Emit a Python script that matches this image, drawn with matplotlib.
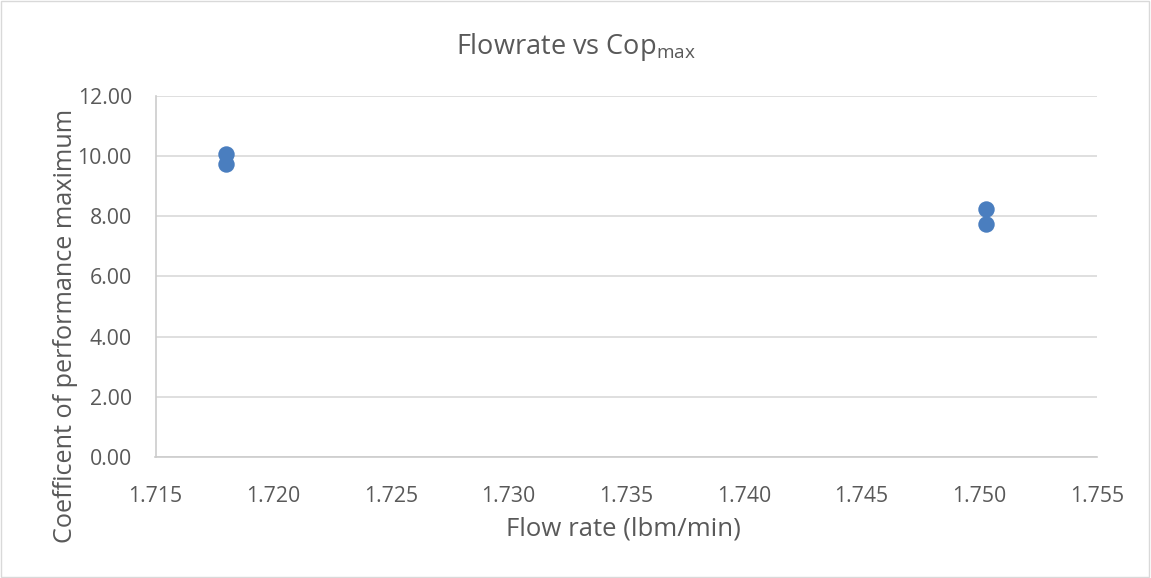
import matplotlib
matplotlib.use("Agg")
import matplotlib.pyplot as plt
from matplotlib.patches import Rectangle

flow_rate = [1.7180, 1.7180, 1.7503, 1.7503]
cop_max = [10.08, 9.74, 8.25, 7.73]
x_ticks = [1.715, 1.720, 1.725, 1.730, 1.735, 1.740, 1.745, 1.750, 1.755]
y_ticks = [0, 2, 4, 6, 8, 10, 12]

plt.rcParams['font.family'] = ['Open Sans', 'DejaVu Sans']
plt.rcParams['mathtext.fontset'] = 'custom'
plt.rcParams['mathtext.rm'] = 'Open Sans'

txt = '#595959'
fig = plt.figure(figsize=(11.51, 5.78), dpi=100)
L, R, B, T = 155.5, 1097, 457, 95.7
ax = fig.add_axes([L / 1151, 1 - B / 578, (R - L) / 1151, (B - T) / 578])

ax.scatter(flow_rate, cop_max, s=140, color='#4a7ebf', zorder=3, linewidths=0)
ax.set_xlim(1.715, 1.755)
ax.set_ylim(0, 12)
ax.set_xticks(x_ticks)
ax.set_xticklabels([f"{v:.3f}" for v in x_ticks])
ax.set_yticks(y_ticks)
ax.set_yticklabels([f"{v:.2f}" for v in y_ticks])
ax.tick_params(length=0, labelsize=15.3, colors=txt)
ax.tick_params(axis='x', pad=21)
ax.tick_params(axis='y', pad=17)
ax.grid(axis='y', color='#d9d9d9', linewidth=1.2)
ax.set_axisbelow(True)
for s in ['top', 'right']:
    ax.spines[s].set_visible(False)
for s in ['left', 'bottom']:
    ax.spines[s].set_color('#cccccc')
    ax.spines[s].set_linewidth(1.2)

ax.set_xlabel('Flow rate (lbm/min)', fontsize=18.5, color=txt)
ax.xaxis.set_label_coords((623.5 - L) / (R - L), (B - 529) / (B - T))
ax.xaxis.label.set_va('center')
ax.set_ylabel('Coefficent of performance maximum', fontsize=18.2, color=txt)
ax.yaxis.set_label_coords((66 - L) / (R - L), (B - 326) / (B - T))
ax.yaxis.label.set_va('center')
fig.text(575.5 / 1151, 1 - 47 / 578, r'Flowrate vs Cop$_{\mathregular{max}}$', ha='center', va='center',
         fontsize=19.5, color=txt)

fig.patches.append(Rectangle((0.001, 0.001), 0.997, 0.997, transform=fig.transFigure,
                             fill=False, edgecolor='#d9d9d9', linewidth=1))

fig.savefig('out.png', dpi=100, facecolor='white')
